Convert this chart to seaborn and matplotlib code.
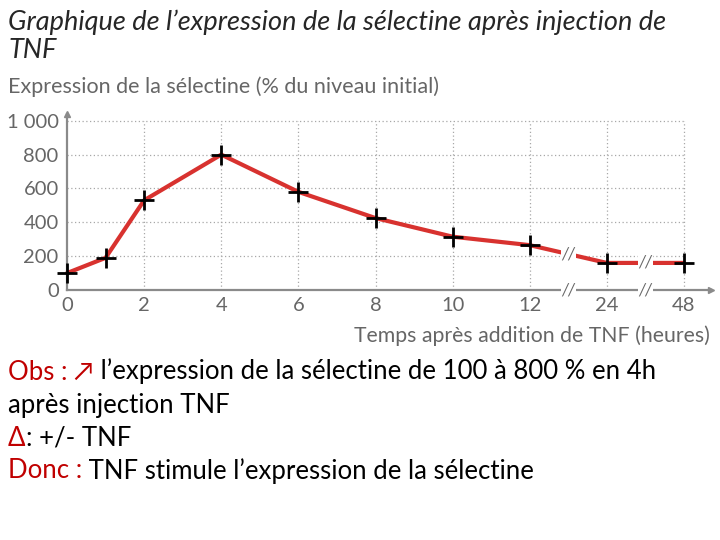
import numpy as np
import pandas as pd
import seaborn as sns
import matplotlib.pyplot as plt

# data
hours = [0, 1, 2, 4, 6, 8, 10, 12, 24, 48]
expression = [100, 190, 530, 800, 580, 425, 315, 265, 160, 160]
tick_hours = [0, 2, 4, 6, 8, 10, 12, 24, 48]
y_ticks = [0, 200, 400, 600, 800, 1000]
y_tick_labels = ['0', '200', '400', '600', '800', '1 000']

# the time axis is broken after 12 h: ticks are evenly spaced
pos = np.interp(hours, tick_hours, np.arange(len(tick_hours)))
df = pd.DataFrame({'pos': pos, 'expression': expression})

sns.set_theme(style='white')
plt.rcParams['font.family'] = ['Lato', 'DejaVu Sans']

gray = '#666666'
red = '#d8322f'

fig = plt.figure(figsize=(7.2, 5.4), dpi=100)
ax = fig.add_axes([67 / 720, 1 - 290 / 540, (711 - 67) / 720, (290 - 114) / 540])

# dotted grid inside the frame only
xt = np.arange(len(tick_hours))
ax.hlines(y_ticks[1:], 0, xt[-1], colors='#a8a8a8', linestyles=(0, (1, 2)), linewidth=0.9)
ax.vlines(xt[1:], 0, y_ticks[-1], colors='#a8a8a8', linestyles=(0, (1, 2)), linewidth=0.9)

sns.lineplot(data=df, x='pos', y='expression', color=red, linewidth=3, ax=ax, clip_on=False)
sns.scatterplot(data=df, x='pos', y='expression', marker='+', s=220, color='black',
                linewidth=2, ax=ax, clip_on=False, zorder=5)

# break marks on the curve and on the axis
for i in [6, 7]:
    xm = (xt[i] + xt[i + 1]) / 2
    ym = np.interp(xm, pos, expression)
    for yy in [ym, 0]:
        ax.text(xm, yy, '//', ha='center', va='center', color=gray, fontsize=12,
                style='italic', zorder=6,
                bbox=dict(facecolor='white', edgecolor='none', pad=0.5))

ax.set_xlim(0, 8.35)
ax.set_ylim(0, 1040)
ax.set_xticks(xt)
ax.set_xticklabels([str(h) for h in tick_hours])
ax.set_yticks(y_ticks)
ax.set_yticklabels(y_tick_labels)
ax.tick_params(colors=gray, labelsize=14.5, length=6, width=1.2, direction='inout', pad=3)
ax.tick_params(axis='x', pad=2)
ax.set_xlabel('')
ax.set_ylabel('')

for s in ['top', 'right']:
    ax.spines[s].set_visible(False)
for s in ['left', 'bottom']:
    ax.spines[s].set_color('#8a8a8a')
    ax.spines[s].set_linewidth(1.6)
ax.plot(1, 0, '>', color='#8a8a8a', ms=5, transform=ax.get_yaxis_transform(), clip_on=False)
ax.plot(0, 1, '^', color='#8a8a8a', ms=5, transform=ax.get_xaxis_transform(), clip_on=False)

fig.text(8 / 720, 1 - 87 / 540, 'Expression de la sélectine (% du niveau initial)',
         color=gray, fontsize=15.5, va='center', ha='left')
fig.text(710 / 720, 1 - 336 / 540, 'Temps après addition de TNF (heures)',
         color=gray, fontsize=15.3, va='center', ha='right')

# title
fig.text(8 / 720, 1 - 22 / 540, 'Graphique de l\u2019expression de la sélectine après injection de',
         fontsize=19.5, style='italic', va='center', ha='left')
fig.text(8 / 720, 1 - 50 / 540, 'TNF', fontsize=19.5, style='italic', va='center', ha='left')

# notes below, red keyword followed by black text
lines = [
    ('Obs : \u2197', ' l\u2019expression de la sélectine de 100 à 800 % en 4h', 372),
    ('', 'après injection TNF', 405),
    ('\u0394', ': +/- TNF', 438),
    ('Donc :', ' TNF stimule l\u2019expression de la sélectine', 471),
]
for red_part, black_part, y in lines:
    if not red_part:
        fig.text(8 / 720, 1 - y / 540, black_part, color='black', fontsize=18.5,
                 va='center', ha='left')
        continue
    t = fig.text(8 / 720, 1 - y / 540, red_part, color='#c00000', fontsize=18.5,
                 va='center', ha='left')
    ax.annotate(black_part, xy=(1, 0), xycoords=t, va='bottom', ha='left',
                fontsize=18.5, color='black', annotation_clip=False)

fig.savefig('out.png', dpi=100)
